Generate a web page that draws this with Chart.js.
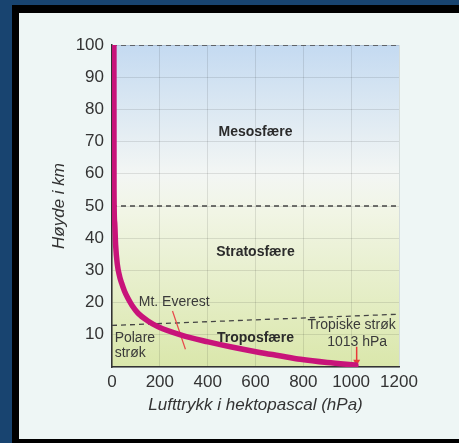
<!DOCTYPE html>
<html>
<head>
<meta charset="utf-8">
<script src="https://cdn.jsdelivr.net/npm/chart.js@4"></script>
<style>
    html, body { margin: 0; padding: 0; width: 459px; height: 443px; overflow: hidden; background: #184470; }
    #frame { position: absolute; left: 12px; top: 5px; width: 447px; height: 438px; background: #000; }
    #panel { position: absolute; left: 19px; top: 13px; width: 440px; height: 426px; background: #eef6f5; }
    #atmChart { position: absolute; left: 0; top: 0; }
</style>
</head>
<body>
<div id="frame"></div>
<div id="panel"></div>
<canvas id="atmChart" width="459" height="443"></canvas>
<script>
// lufttrykk (hPa) mot høyde (km), lest av figuren
const pressure = [8, 8.4, 11, 15, 22, 32, 40, 52, 66, 84, 109, 150, 193, 290, 402, 500, 612, 700, 788, 900, 1020];
const altitude = [100, 55, 45, 38, 32, 28.1, 26.1, 23.6, 21.4, 19.1, 16.7, 14.3, 12.5, 9.9, 7.8, 6.2, 4.6, 3.5, 2.4, 1.4, 0.6];

const xTicks = [0, 200, 400, 600, 800, 1000, 1200];
const yTicks = [10, 20, 30, 40, 50, 60, 70, 80, 90, 100];

const tropopauseX = [0, 1200];
const tropopauseY = [12.9, 16.4];
const everestX = [253, 307];
const everestY = [17.4, 5.5];
const arrowX = [1023, 1023];
const arrowY = [6.3, 1.6];
const layerTops = [50, 100];

const layerNames = ['Mesosfære', 'Stratosfære', 'Troposfære'];
const sideNotes = ['Mt. Everest', 'Polare', 'strøk', 'Tropiske strøk', '1013 hPa'];

const FONT = "'Liberation Sans', Arial, sans-serif";

function pts(xs, ys) {
    return xs.map((x, i) => ({ x: x, y: ys[i] }));
}

const dashed = {
    borderColor: '#444',
    borderWidth: 1.3,
    borderDash: [5, 4],
    pointRadius: 0,
    showLine: true,
    fill: false
};

const backgroundPlugin = {
    id: 'skyBackground',
    beforeDraw(chart) {
        const { ctx, chartArea: a } = chart;
        const g = ctx.createLinearGradient(0, a.top, 0, a.bottom);
        g.addColorStop(0, 'rgb(196,218,241)');
        g.addColorStop(0.40, 'rgb(243,246,244)');
        g.addColorStop(0.52, 'rgb(241,245,229)');
        g.addColorStop(1, 'rgb(218,231,171)');
        ctx.save();
        ctx.fillStyle = g;
        ctx.fillRect(a.left, a.top, a.right - a.left, a.bottom - a.top);
        ctx.restore();
    }
};

const textPlugin = {
    id: 'layerText',
    afterDatasetsDraw(chart) {
        const { ctx, scales: { x, y } } = chart;
        const put = (txt, px, py, bold, align) => {
            ctx.font = (bold ? 'bold ' : '') + '14px ' + FONT;
            ctx.fillStyle = bold ? '#2b2b2b' : '#3a3a3a';
            ctx.textAlign = align || 'center';
            ctx.textBaseline = 'middle';
            ctx.fillText(txt, x.getPixelForValue(px), y.getPixelForValue(py));
        };
        ctx.save();
        put(layerNames[0], 600, 73, true);
        put(layerNames[1], 600, 35.8, true);
        put(layerNames[2], 600, 9, true);
        put(sideNotes[0], 260, 20, false);
        put(sideNotes[1], 11, 9, false, 'left');
        put(sideNotes[2], 11, 4.3, false, 'left');
        put(sideNotes[3], 1002, 13, false);
        put(sideNotes[4], 1025, 7.8, false);
        ctx.restore();
    }
};

new Chart(document.getElementById('atmChart'), {
    type: 'scatter',
    data: {
        datasets: [
            {
                data: pts(pressure, altitude),
                borderColor: '#c8137a',
                borderWidth: 5.5,
                pointRadius: 0,
                showLine: true,
                cubicInterpolationMode: 'monotone',
                borderCapStyle: 'round'
            },
            {
                data: pts(arrowX, arrowY),
                borderColor: '#e8383a',
                backgroundColor: '#e8383a',
                borderWidth: 1.5,
                showLine: true,
                pointStyle: 'triangle',
                rotation: 180,
                pointRadius: [0, 4],
                pointBorderWidth: 0
            },
            {
                data: pts(everestX, everestY),
                borderColor: '#e8474a',
                borderWidth: 1.2,
                pointRadius: 0,
                showLine: true
            },
            Object.assign({ data: pts(tropopauseX, tropopauseY) }, dashed),
            Object.assign({ data: pts([0, 1200], [layerTops[0], layerTops[0]]) }, dashed),
            Object.assign({ data: pts([0, 1200], [layerTops[1], layerTops[1]]) }, dashed)
        ]
    },
    options: {
        responsive: false,
        animation: false,
        layout: { padding: { left: 40, right: 60, top: 45, bottom: 20 } },
        plugins: {
            legend: { display: false },
            tooltip: { enabled: false }
        },
        scales: {
            x: {
                type: 'linear',
                min: 0,
                max: 1200,
                afterBuildTicks: s => { s.ticks = xTicks.map(v => ({ value: v })); },
                afterFit: s => { s.height = 56; },
                grid: { color: 'rgba(0,0,0,0.10)', drawTicks: false },
                border: { color: '#333', width: 1.5 },
                ticks: {
                    color: '#333',
                    padding: 5,
                    maxRotation: 0,
                    font: { family: FONT, size: 17 },
                    callback: v => String(v)
                },
                title: {
                    display: true,
                    text: 'Lufttrykk i hektopascal (hPa)',
                    color: '#333',
                    padding: { top: 0, bottom: 8 },
                    font: { family: FONT, size: 17, style: 'italic' }
                }
            },
            y: {
                type: 'linear',
                min: 0,
                max: 100,
                afterBuildTicks: s => { s.ticks = [0].concat(yTicks).map(v => ({ value: v })); },
                afterFit: s => { s.width = 72; },
                grid: { color: 'rgba(0,0,0,0.10)', drawTicks: false },
                border: { color: '#333', width: 1.5 },
                ticks: {
                    color: '#333',
                    padding: 8,
                    font: { family: FONT, size: 17 },
                    callback: v => (v === 0 ? '' : String(v))
                },
                title: {
                    display: true,
                    text: 'Høyde i km',
                    color: '#333',
                    padding: { top: 9, bottom: 0 },
                    font: { family: FONT, size: 17, style: 'italic' }
                }
            }
        }
    },
    plugins: [backgroundPlugin, textPlugin]
});
</script>
</body>
</html>
